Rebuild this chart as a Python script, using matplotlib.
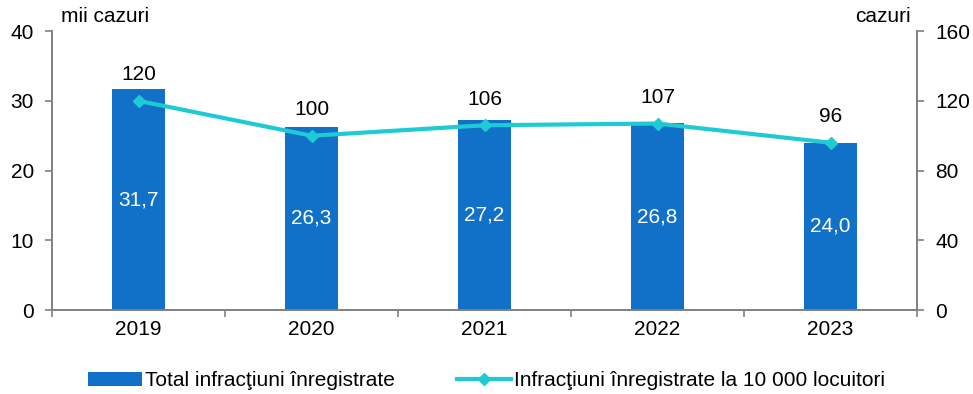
import matplotlib.pyplot as plt
from matplotlib.lines import Line2D
from matplotlib.patches import Patch

plt.rcParams['font.family'] = ['Liberation Sans', 'DejaVu Sans']

ani = ['2019', '2020', '2021', '2022', '2023']
total_mii = [31.7, 26.3, 27.2, 26.8, 24.0]
la_10000 = [120, 100, 106, 107, 96]

bar_color = '#1170C8'
line_color = '#1ECBD4'
grey = '#808080'
fs = 15

fig = plt.figure(figsize=(9.73, 3.94), dpi=100, facecolor='white')
ax = fig.add_axes([0.0535, 0.213, 0.889, 0.708])
ax2 = ax.twinx()

x = list(range(len(ani)))
ax.bar(x, total_mii, width=0.31, color=bar_color, zorder=2)
for xi, v in zip(x, total_mii):
    ax.text(xi, v / 2, f'{v:.1f}'.replace('.', ','), ha='center', va='center',
            color='white', fontsize=fs)

ax2.plot(x, la_10000, color=line_color, lw=3, marker='D', ms=6, zorder=3)
for xi, v in zip(x, la_10000):
    ax2.annotate(str(v), (xi, v), xytext=(0, 12), textcoords='offset points',
                 ha='center', va='bottom', fontsize=fs)

ax.set_xlim(-0.5, 4.5)
ax.set_ylim(0, 40)
ax2.set_ylim(0, 160)
ax.set_yticks([0, 10, 20, 30, 40])
ax2.set_yticks([0, 40, 80, 120, 160])
ax.set_xticks(x)
ax.set_xticklabels(ani)
ax.set_xticks([i + 0.5 for i in range(-1, 5)], minor=True)

for a in (ax, ax2):
    a.spines['top'].set_visible(False)
    for s in ('left', 'right', 'bottom'):
        a.spines[s].set_color(grey)
        a.spines[s].set_linewidth(1.2)
    a.tick_params(axis='y', labelsize=fs, color=grey, length=5, width=1.2, pad=8)
ax.tick_params(axis='x', which='major', length=0, labelsize=fs, pad=7)
ax.tick_params(axis='x', which='minor', length=5, width=1.2, color=grey)

ax.text(0.01, 1.02, 'mii cazuri', transform=ax.transAxes, ha='left', va='bottom',
        fontsize=fs)
ax.text(0.993, 1.02, 'cazuri', transform=ax.transAxes, ha='right', va='bottom',
        fontsize=fs)

handles = [Patch(facecolor=bar_color),
           Line2D([], [], color=line_color, lw=3, marker='D', ms=6)]
labels = ['Total infracţiuni înregistrate',
          'Infracţiuni înregistrate la 10 000 locuitori']
fig.legend(handles, labels, loc='center', bbox_to_anchor=(0.5, 0.033),
           ncol=2, frameon=False, fontsize=fs, columnspacing=3.0,
           handlelength=2.6, handletextpad=0.15)

fig.savefig('out.png', dpi=100, facecolor='white')
